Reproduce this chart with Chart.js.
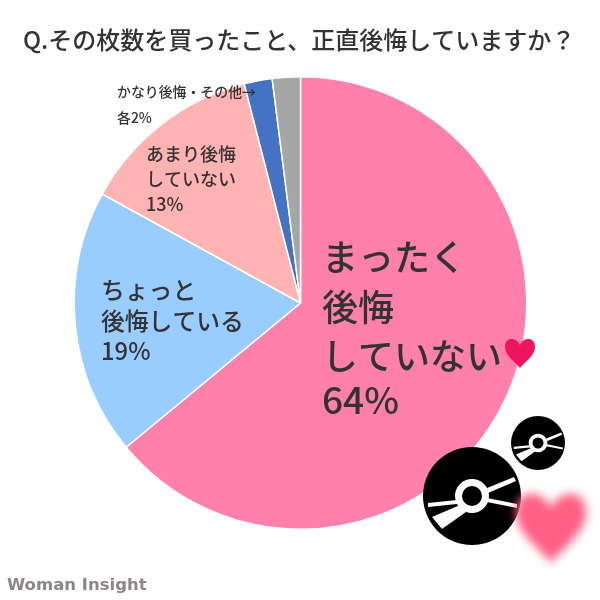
<!DOCTYPE html>
<html lang="ja">
<head>
<meta charset="utf-8">
<style>
  html, body { margin: 0; padding: 0; background: #fff; }
  #wrap { width: 600px; height: 600px; position: relative; }
</style>
<script src="https://cdn.jsdelivr.net/npm/chart.js@4"></script>
</head>
<body>
<div id="wrap"><canvas id="chartPie" width="600" height="600"></canvas></div>
<script>
const titleText = 'Q.その枚数を買ったこと、正直後悔していますか？';
const categories = ['まったく後悔していない', 'ちょっと後悔している', 'あまり後悔していない', 'かなり後悔', 'その他'];
const shares = [64, 19, 13, 2, 2];
const sliceColors = ['#ff80aa', '#99ccff', '#ffb3b3', '#4472c4', '#a6a6a6'];
const logoText = 'Woman Insight';

const JP_FONT = "'Noto Sans CJK JP', sans-serif";
const INK = '#333333';

function drawLines(ctx, lines, x, y, size, step) {
  ctx.font = `500 ${size}px ${JP_FONT}`;
  ctx.fillStyle = INK;
  lines.forEach((line, i) => ctx.fillText(line, x, y + i * step));
}

function heartPath(ctx, cx, top, w, h) {
  ctx.beginPath();
  ctx.moveTo(cx, top + h * 0.24);
  ctx.bezierCurveTo(cx - w * 0.12, top - h * 0.04, cx - w * 0.5, top - h * 0.04, cx - w * 0.5, top + h * 0.3);
  ctx.bezierCurveTo(cx - w * 0.5, top + h * 0.58, cx - w * 0.16, top + h * 0.8, cx, top + h);
  ctx.bezierCurveTo(cx + w * 0.16, top + h * 0.8, cx + w * 0.5, top + h * 0.58, cx + w * 0.5, top + h * 0.3);
  ctx.bezierCurveTo(cx + w * 0.5, top - h * 0.04, cx + w * 0.12, top - h * 0.04, cx, top + h * 0.24);
  ctx.closePath();
}

// disc icon, coordinates relative to a radius of 49
function drawDisc(ctx, cx, cy, r) {
  const s = r / 49;
  ctx.save();
  ctx.translate(cx, cy);
  ctx.scale(s, s);
  ctx.fillStyle = '#000';
  ctx.beginPath(); ctx.arc(0, 0, 49, 0, Math.PI * 2); ctx.fill();
  ctx.fillStyle = '#fff';
  [
    [[15, -8], [42, -19], [44, -15], [16, -3]],
    [[15, 2], [45, 8], [45, 12], [15, 6]],
    [[-15, 4], [-44, 7], [-44, 11], [-15, 8]],
    [[-12, 9], [-40, 21], [-30, 33], [-6, 16]],
  ].forEach(pts => {
    ctx.beginPath();
    pts.forEach((p, i) => i ? ctx.lineTo(p[0], p[1]) : ctx.moveTo(p[0], p[1]));
    ctx.closePath();
    ctx.fill();
  });
  ctx.beginPath(); ctx.arc(0, 0, 17, 0, Math.PI * 2); ctx.fill();
  ctx.fillStyle = '#000';
  ctx.beginPath(); ctx.arc(0, 0, 10, 0, Math.PI * 2); ctx.fill();
  ctx.restore();
}

const annotations = {
  id: 'annotations',
  afterDraw(chart) {
    const ctx = chart.ctx;
    ctx.save();
    ctx.textBaseline = 'alphabetic';
    ctx.textAlign = 'left';

    drawLines(ctx, [titleText], 23, 49, 24, 0);
    drawLines(ctx, ['まったく', '後悔', 'していない'], 322, 271, 36, 49.5);
    drawLines(ctx, ['64%'], 322, 414, 37, 0);
    drawLines(ctx, ['ちょっと', '後悔している', '19%'], 101, 299, 23.8, 30.5);
    drawLines(ctx, ['あまり後悔', 'していない', '13%'], 146, 161, 18, 25);
    drawLines(ctx, ['かなり後悔・その他→'], 117, 97, 13.9, 0);
    drawLines(ctx, ['各2%'], 117, 123, 13.9, 0);

    ctx.fillStyle = '#f0145f';
    heartPath(ctx, 520, 338, 30, 30);
    ctx.fill();

    drawDisc(ctx, 472, 496, 49);
    drawDisc(ctx, 538, 443, 27);

    ctx.filter = 'blur(5px)';
    ctx.fillStyle = '#ff5f85';
    heartPath(ctx, 551, 491, 70, 72);
    ctx.fill();
    ctx.filter = 'none';

    ctx.font = "bold 16.5px 'DejaVu Sans', sans-serif";
    ctx.fillStyle = '#8c8686';
    ctx.fillText(logoText, 7, 590);
    ctx.restore();
  }
};

new Chart(document.getElementById('chartPie'), {
  type: 'pie',
  data: {
    labels: categories,
    datasets: [{
      data: shares,
      backgroundColor: sliceColors,
      borderColor: '#ffffff',
      borderWidth: 1.5,
    }]
  },
  options: {
    responsive: false,
    animation: false,
    layout: { padding: { left: 73, right: 72, top: 76, bottom: 70 } },
    plugins: { legend: { display: false }, tooltip: { enabled: false }, title: { display: false } }
  },
  plugins: [annotations]
});
</script>
</body>
</html>
